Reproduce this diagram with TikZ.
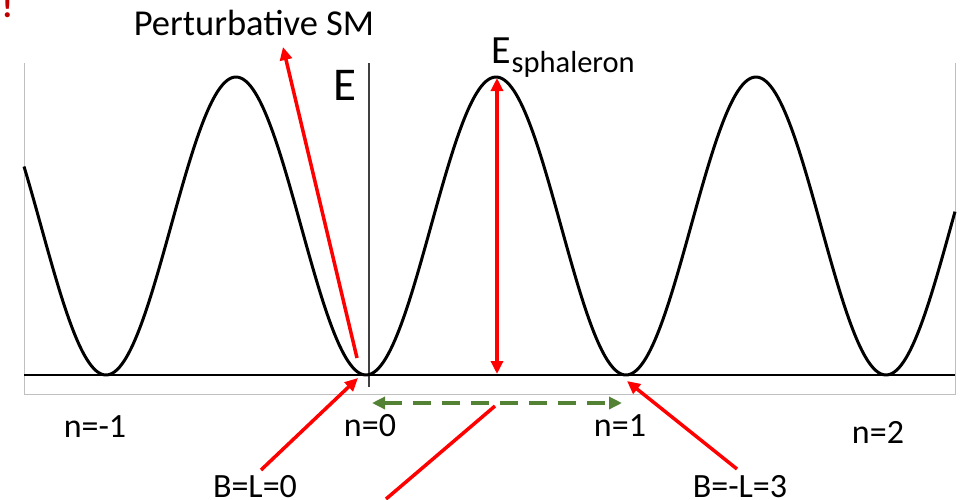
\documentclass[tikz,border=0pt]{standalone}
\usepackage{fontspec}
\setmainfont{Carlito}
\usetikzlibrary{arrows.meta}
\definecolor{framegrey}{HTML}{BFBFBF}
\definecolor{axisgrey}{HTML}{404040}
\definecolor{darkgreen}{HTML}{548235}
\definecolor{darkred}{HTML}{C00000}
\begin{document}
\begin{tikzpicture}[x=1pt,y=-1pt,
  redarrow/.style={draw=red, line width=3.5pt, -{Triangle[length=13pt,width=12pt]}},
  redline/.style={draw=red, line width=3.5pt},
  greenarrow/.style={draw=darkgreen, line width=3.5pt, dash pattern=on 18pt off 11pt,
     {Triangle[length=13pt,width=12pt]}-{Triangle[length=13pt,width=12pt]}},
  lbl/.style={font=\fontsize{34}{40}\selectfont, inner sep=0pt, anchor=base},
  framestyle/.style={draw=framegrey, line width=1pt},
  axisstyle/.style={draw=axisgrey, line width=1.6pt},
  curvestyle/.style={draw=black, line width=3pt, line join=round}]
\useasboundingbox (0,0) rectangle (964,499);
\clip (0,0) rectangle (964,499);
% frame of the plot
\draw[framestyle] (24,63) -- (24,394) -- (955,394) -- (955,63);
% base line
\draw[line width=2.6pt] (24,375) -- (955,375);
% vertical axis
\draw[axisstyle] (369,63) -- (369,387);
% potential curve
\draw[curvestyle] plot[domain=24:955, samples=400, smooth] (\x, {226+149*cos(1.384615*(\x-106))});

% exclamation mark
\node[inner sep=0pt, anchor=base, text=darkred, font=\fontsize{34}{40}\selectfont\bfseries] (excl) at (7.5,17) {!};

% labels
\node[lbl, font=\fontsize{36.5}{40}\selectfont] (psm) at (254,35) {Perturbative SM};
\node[inner sep=0pt, anchor=base, font=\fontsize{47}{50}\selectfont] (E) at (345,100) {E};
\node[inner sep=0pt, anchor=base west] (esph) at (491,63)
  {\fontsize{40}{44}\selectfont E\hspace{1pt}\raisebox{-9pt}{\fontsize{30.5}{34}\selectfont sphaleron}};
\node[lbl] (nm1) at (95,437) {n=-1};
\node[lbl] (n0) at (370,436) {n=0};
\node[lbl] (n1) at (620,436) {n=1};
\node[lbl] (n2) at (878,443) {n=2};
\node[lbl] (bl0) at (255,497) {B=L=0};
\node[lbl] (bl3) at (740,497) {B=-L=3};

% coordinates for connector ends
\coordinate (psmTip) at (283,47);
\coordinate (psmTail) at (357,358);
\coordinate (bl0Tail) at (261,470);
\coordinate (min0) at (358,378);
\coordinate (bl3Tail) at (737,469);
\coordinate (min1) at (627,381);
\coordinate (peak) at (497,78);
\coordinate (base) at (497,374);
\coordinate (lineLow) at (386,499);
\coordinate (lineHigh) at (495,406);
\coordinate (gL) at (372,403);
\coordinate (gR) at (622,403);

% connectors
\draw[redarrow] (psmTail) -- (psmTip);
\draw[redarrow] (bl0Tail) -- (min0);
\draw[redarrow] (bl3Tail) -- (min1);
\draw[redarrow, {Triangle[length=13pt,width=12pt]}-{Triangle[length=13pt,width=12pt]}] (base) -- (peak);
\draw[redline] (lineLow) -- (lineHigh);
\draw[greenarrow] (gL) -- (gR);
\end{tikzpicture}
\end{document}
